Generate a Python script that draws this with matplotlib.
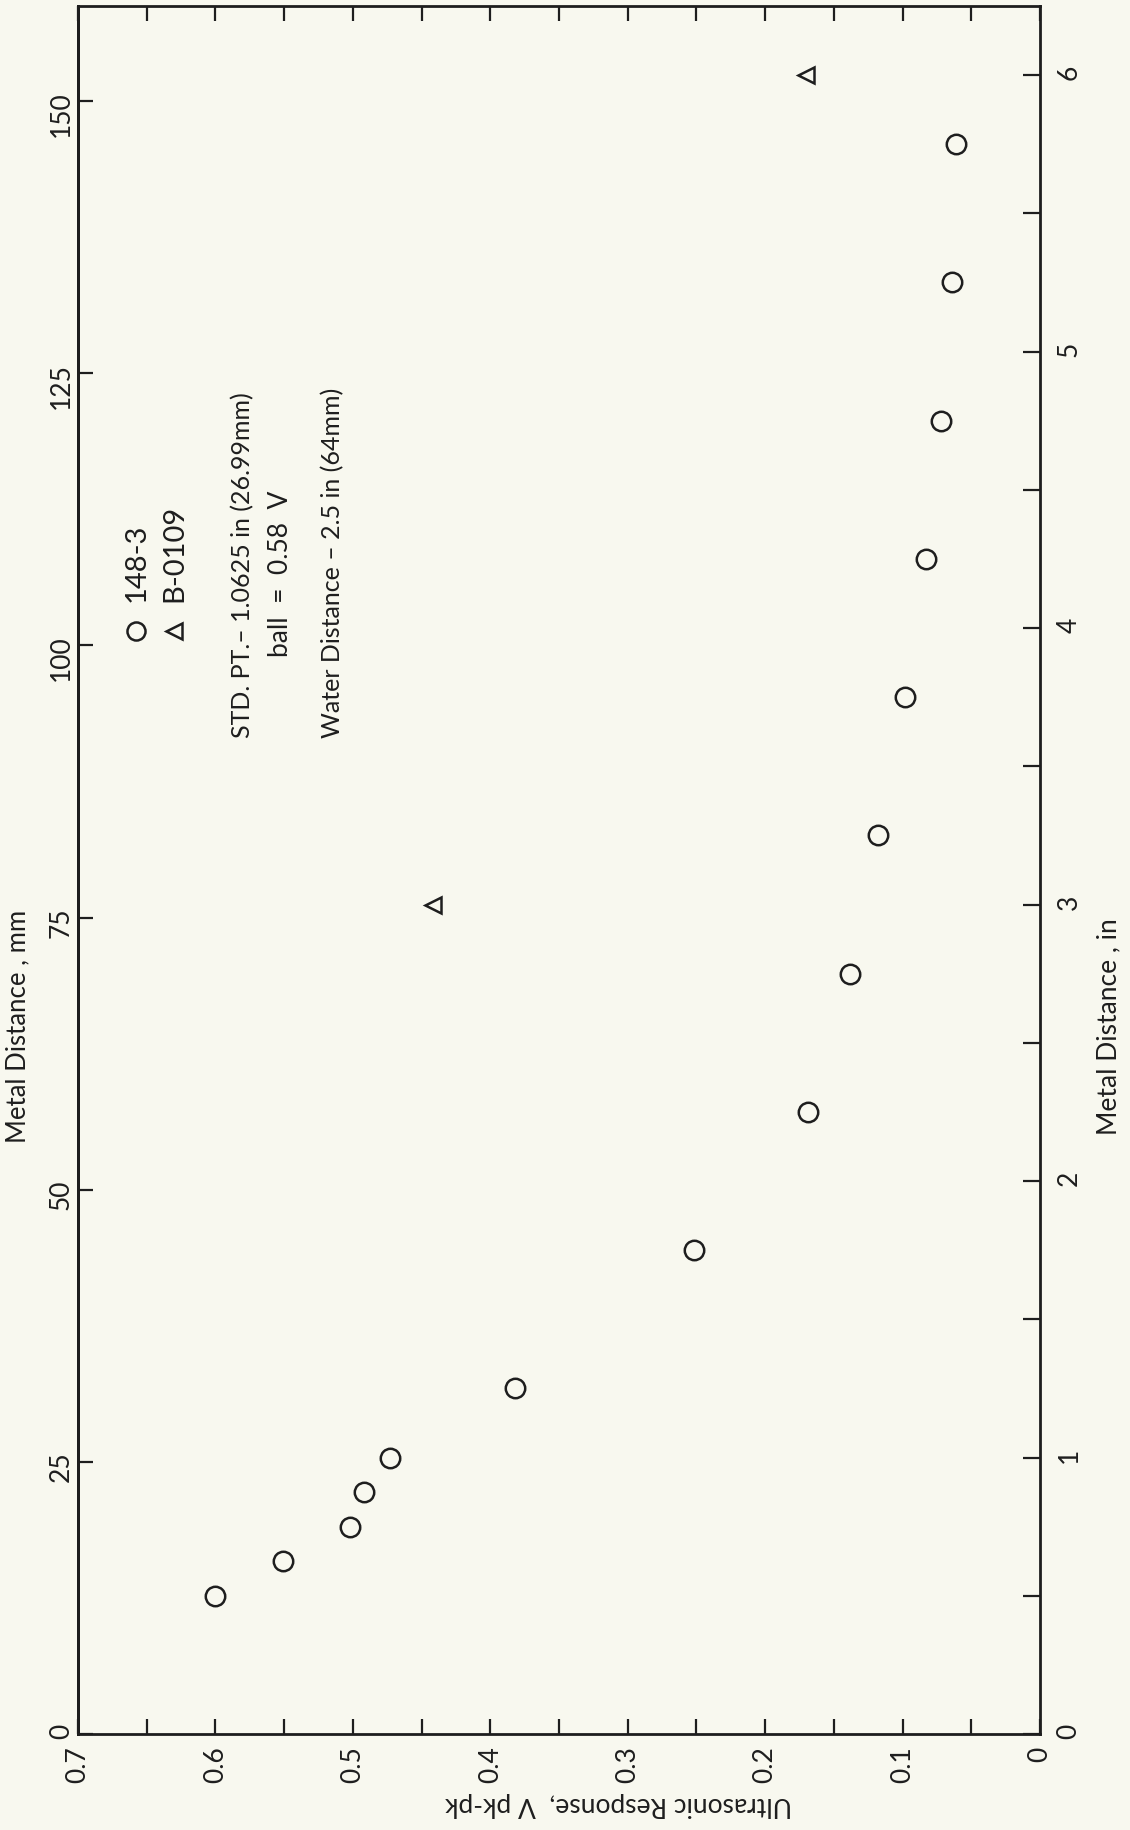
import numpy as np
import matplotlib
matplotlib.use("Agg")
import matplotlib.pyplot as plt
from matplotlib.ticker import MultipleLocator

# --- dane ---
# seria 148-3 (kółka): odległość w metalu [in], odpowiedź [V pk-pk]
dist_148 = [0.5, 0.625, 0.75, 0.875, 1.0, 1.25, 1.75, 2.25, 2.75, 3.25,
            3.75, 4.25, 4.75, 5.25, 5.75]
resp_148 = [0.600, 0.551, 0.502, 0.492, 0.473, 0.382, 0.252, 0.169, 0.138,
            0.118, 0.098, 0.083, 0.072, 0.064, 0.061]
# seria B-0109 (trójkąty)
dist_b = [3.0, 6.0]
resp_b = [0.442, 0.170]

mm_ticks = [0, 25, 50, 75, 100, 125, 150]
in_ticks = [0, 1, 2, 3, 4, 5, 6]
v_ticks = [0.7, 0.6, 0.5, 0.4, 0.3, 0.2, 0.1, 0]
v_labels = ["0.7", "0.6", "0.5", "0.4", "0.3", "0.2", "0.1", "0"]

W, H = 1130, 1830
bg = "#f8f8ef"
ink = "#1e1e1e"

plt.rcParams['font.family'] = ['Lato', 'DejaVu Sans']
fig = plt.figure(figsize=(W / 100, H / 100), dpi=100, facecolor=bg)

def fx(px):
    return px / W

def fy(py):
    return 1 - py / H

left, right, top, bottom = 78, 1040, 6, 1734
ax = fig.add_axes([fx(left), fy(bottom), fx(right) - fx(left), fy(top) - fy(bottom)])
ax.set_facecolor(bg)

# wykres obrócony: oś V poziomo (odwrócona), odległość pionowo
ax.plot(resp_148, dist_148, linestyle='none', marker='o', ms=14, mfc='none',
        mec=ink, mew=1.8)
ax.plot(resp_b, dist_b, linestyle='none', marker='<', ms=12, mfc='none',
        mec=ink, mew=1.8)

ax.set_xlim(0.7, 0.0)
ax.set_ylim(0, 6.25)

for s in ax.spines.values():
    s.set_linewidth(2.0)
    s.set_color(ink)

# oś V (dół), ticki co 0.05 także u góry
ax.set_xticks(v_ticks)
ax.set_xticklabels(v_labels)
ax.xaxis.set_minor_locator(MultipleLocator(0.05))
ax.tick_params(axis='x', which='both', direction='in', length=11, width=1.6,
               top=True, bottom=True, color=ink)
ax.tick_params(axis='x', which='major', labelrotation=90, labelsize=19,
               pad=9, labelcolor=ink)

# oś cali (prawa)
ax.yaxis.tick_right()
ax.set_yticks(in_ticks)
ax.yaxis.set_minor_locator(MultipleLocator(0.5))
ax.tick_params(axis='y', which='both', direction='in', length=12, width=1.6,
               left=False, right=True, color=ink)
ax.tick_params(axis='y', which='major', labelrotation=90, labelsize=19,
               pad=12, labelcolor=ink)

# oś milimetrów (lewa)
sec = ax.secondary_yaxis('left', functions=(lambda x: x * 25.4, lambda x: x / 25.4))
sec.set_yticks(mm_ticks)
sec.spines['left'].set_linewidth(2.0)
sec.tick_params(axis='y', direction='in', length=11, width=1.6, color=ink,
                labelrotation=90, labelsize=19, pad=3, labelcolor=ink)

# --- podpisy osi ---
fig.text(fx(18), fy(1026), "Metal Distance , mm", rotation=90, ha='center',
         va='center', fontsize=18.5, color=ink)
fig.text(fx(1109), fy(1027), "Metal Distance , in", rotation=90, ha='center',
         va='center', fontsize=19, color=ink)
fig.text(fx(619), fy(1804), "Ultrasonic Response,  V pk-pk", rotation=180,
         ha='center', va='center', fontsize=19, color=ink)

# --- legenda i opis ---
ax.plot([0.658], [3.99], marker='o', ms=13, mfc='none', mec=ink, mew=1.8)
fig.text(fx(137), fy(602), "148-3", rotation=90, ha='center', va='bottom',
         fontsize=21, color=ink)
ax.plot([0.630], [3.99], marker='<', ms=11, mfc='none', mec=ink, mew=1.8)
fig.text(fx(174), fy(602), "B-0109", rotation=90, ha='center', va='bottom',
         fontsize=21, color=ink)

fig.text(fx(243), fy(738), "STD. PT.\u2013 1.0625 in (26.99mm)", rotation=90,
         ha='center', va='bottom', fontsize=18, color=ink)
fig.text(fx(281), fy(657), "ball  =  0.58  V", rotation=90, ha='center',
         va='bottom', fontsize=19, color=ink)
fig.text(fx(333), fy(738), "Water Distance \u2013 2.5 in (64mm)", rotation=90,
         ha='center', va='bottom', fontsize=18, color=ink)

fig.savefig("out.png", dpi=100, facecolor=bg)
